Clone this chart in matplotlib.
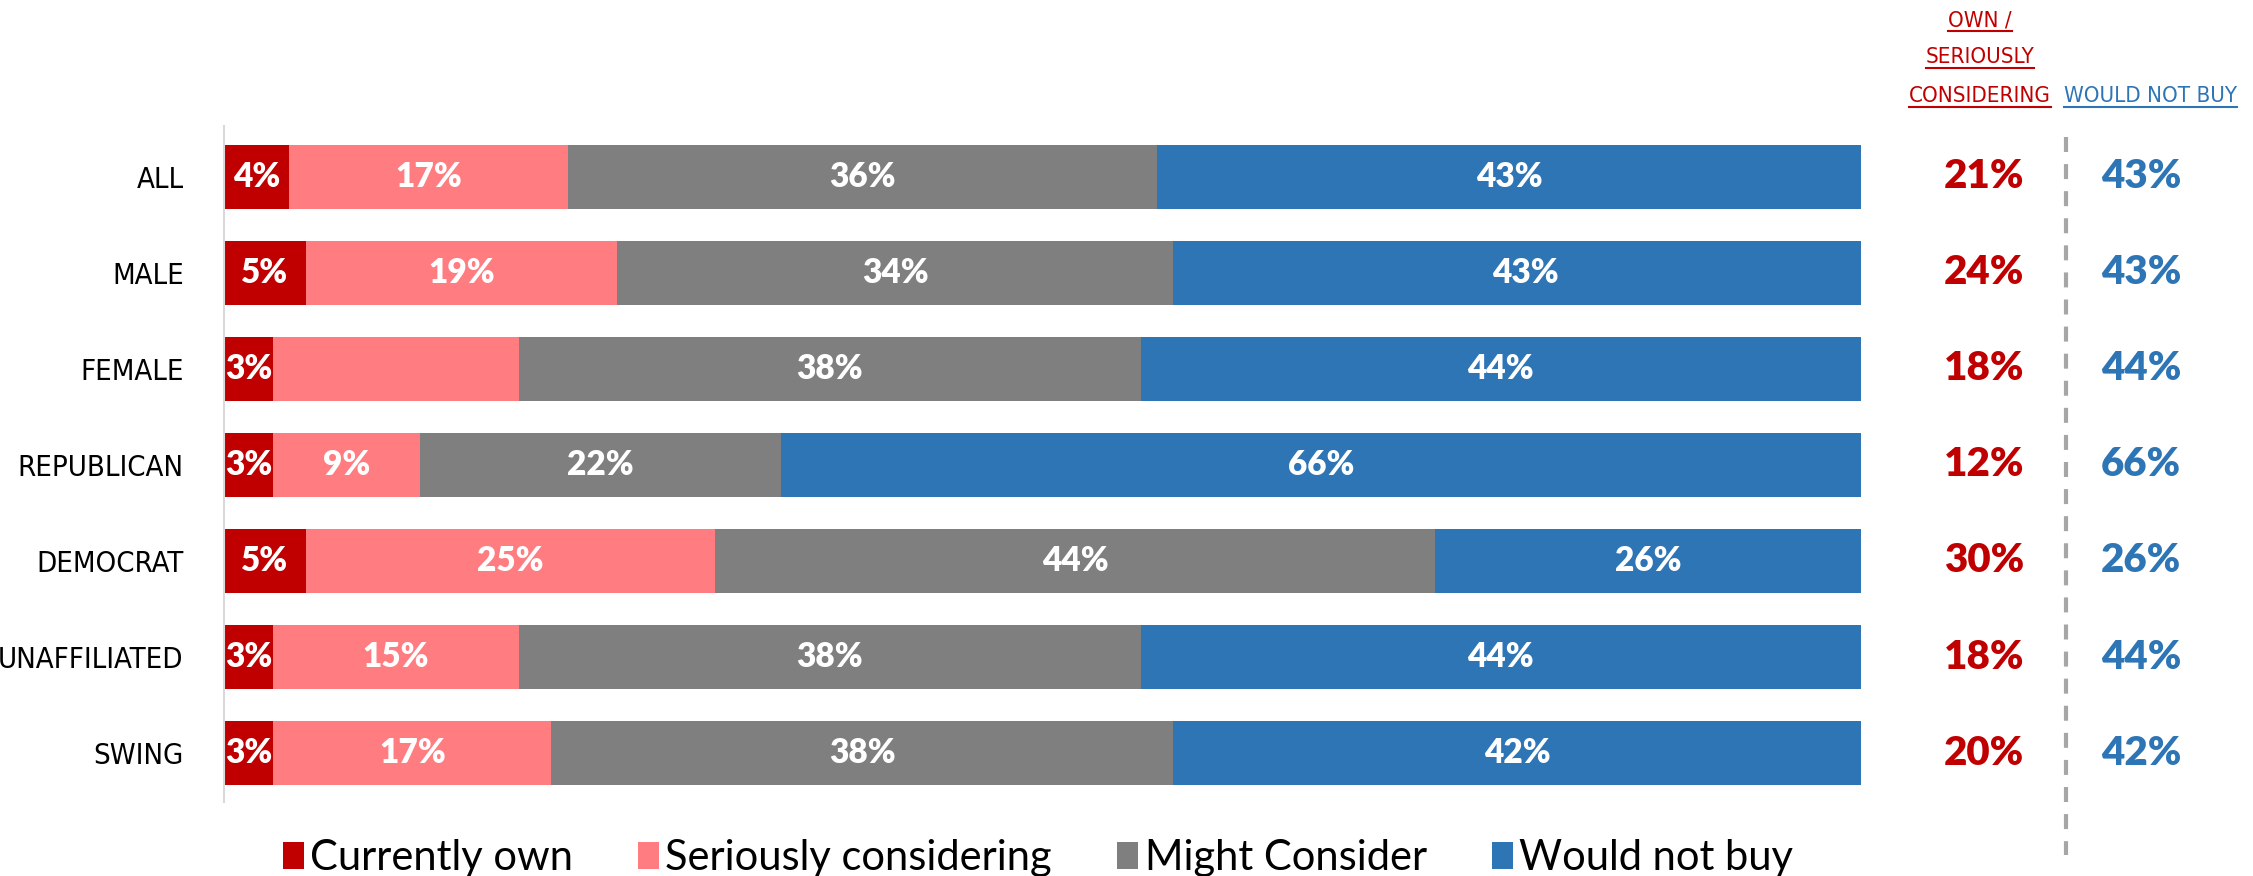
import matplotlib
matplotlib.use("Agg")
import matplotlib.pyplot as plt
from matplotlib.patches import Patch
from matplotlib.lines import Line2D
from matplotlib import font_manager

# Survey groups, top to bottom
groups = ["ALL", "MALE", "FEMALE", "REPUBLICAN", "DEMOCRAT", "UNAFFILIATED", "SWING"]

currently_own = [4, 5, 3, 3, 5, 3, 3]
seriously_considering = [17, 19, 15, 9, 25, 15, 17]
might_consider = [36, 34, 38, 22, 44, 38, 38]
would_not_buy = [43, 43, 44, 66, 26, 44, 42]

# FEMALE's "seriously considering" segment carries no label
show_label = {("Seriously considering", "FEMALE"): False}

own_or_considering = [21, 24, 18, 12, 30, 18, 20]
not_buy_total = [43, 43, 44, 66, 26, 44, 42]

series_names = ["Currently own", "Seriously considering", "Might Consider", "Would not buy"]
colors = ["#C00000", "#FF7C80", "#7F7F7F", "#2E75B6"]
RED = "#C00000"
BLUE = "#2E75B6"

installed = {f.name for f in font_manager.fontManager.ttflist}
MAIN = "Lato" if "Lato" in installed else "DejaVu Sans"


def find_narrow():
    # look for any condensed / narrow face that is installed, regular weight first
    best = None
    for f in font_manager.fontManager.ttflist:
        fn = f.fname.lower()
        narrow = ("condensed" in fn or "narrow" in fn or
                  str(f.stretch) in ("condensed", "semi-condensed", "extra-condensed"))
        if not narrow or f.style != "normal":
            continue
        w = f.weight if isinstance(f.weight, int) else 400
        score = abs(w - 400) + (0 if "condensed" in fn or "narrow" in fn else 50)
        if best is None or score < best[0]:
            best = (score, f.fname)
    if best:
        return font_manager.FontProperties(fname=best[1])
    fam = "Roboto" if "Roboto" in installed else "DejaVu Sans"
    return font_manager.FontProperties(family=fam)


NARROW = find_narrow()


def narrow(size):
    fp = NARROW.copy()
    fp.set_size(size)
    return fp


fig = plt.figure(figsize=(22.53, 8.76), dpi=100)
W, H = 2253, 876
left_px, right_px = 224, 1861
top_px, bot_px = 126, 802
ax = fig.add_axes([left_px / W, 1 - bot_px / H, (right_px - left_px) / W, (bot_px - top_px) / H])

n = len(groups)
ypos = list(range(n))
all_series = [currently_own, seriously_considering, might_consider, would_not_buy]

lefts = [0] * n
for name, vals, col in zip(series_names, all_series, colors):
    bars = ax.barh(ypos, vals, left=lefts, height=0.67, color=col, edgecolor="none")
    for i, (b, v) in enumerate(zip(bars, vals)):
        if not show_label.get((name, groups[i]), True):
            continue
        ax.text(b.get_x() + b.get_width() / 2, b.get_y() + b.get_height() / 2, f"{v}%",
                ha="center", va="center", color="white", fontsize=24,
                fontweight="heavy", family=MAIN)
    lefts = [l + v for l, v in zip(lefts, vals)]

ax.set_xlim(0, 100)
ax.set_ylim(n - 1 + 0.51, -0.53)
for s in ["top", "right", "bottom"]:
    ax.spines[s].set_visible(False)
ax.spines["left"].set_color("#D9D9D9")
ax.spines["left"].set_linewidth(1.5)
ax.set_xticks([])
ax.set_yticks(ypos)
ax.set_yticklabels(groups, fontproperties=narrow(21))
ax.tick_params(axis="y", length=0, pad=29)

# Summary columns on the right
x_own, x_not, x_sep = 107.5, 117.1, 112.5
for i in range(n):
    ax.text(x_own, i, f"{own_or_considering[i]}%", ha="center", va="center",
            color=RED, fontsize=29, fontweight="heavy", family=MAIN, clip_on=False)
    ax.text(x_not, i, f"{not_buy_total[i]}%", ha="center", va="center",
            color=BLUE, fontsize=29, fontweight="heavy", family=MAIN, clip_on=False)
ax.plot([x_sep, x_sep], [-0.415, 7.06], color="#A6A6A6", lw=3, dashes=(3.6, 2.9),
        clip_on=False, solid_capstyle="butt")

# Column headers, underlined
headers = [("OWN /", 1980, 20, RED), ("SERIOUSLY", 1980, 57, RED),
           ("CONSIDERING", 1980, 96, RED), ("WOULD NOT BUY", 2150, 96, BLUE)]
htexts = []
for txt, xp, yp, col in headers:
    t = fig.text(xp / W, 1 - yp / H, txt, ha="center", va="center", color=col,
                 fontproperties=narrow(16))
    htexts.append((t, col))

fig.canvas.draw()
renderer = fig.canvas.get_renderer()
for t, col in htexts:
    bb = t.get_window_extent(renderer)
    y = bb.y0 - 1
    fig.add_artist(Line2D([bb.x0 / W, bb.x1 / W], [y / H, y / H],
                          transform=fig.transFigure, color=col, lw=1.5))

handles = [Patch(facecolor=c, edgecolor="none") for c in colors]
fig.legend(handles, series_names, loc="center", bbox_to_anchor=(1038 / W, 18 / H),
           ncol=4, frameon=False, prop={"family": MAIN, "size": 30},
           handlelength=0.5, handleheight=0.62, handletextpad=0.15, columnspacing=1.57,
           borderpad=0, borderaxespad=0)

fig.savefig("out.png", dpi=100)
